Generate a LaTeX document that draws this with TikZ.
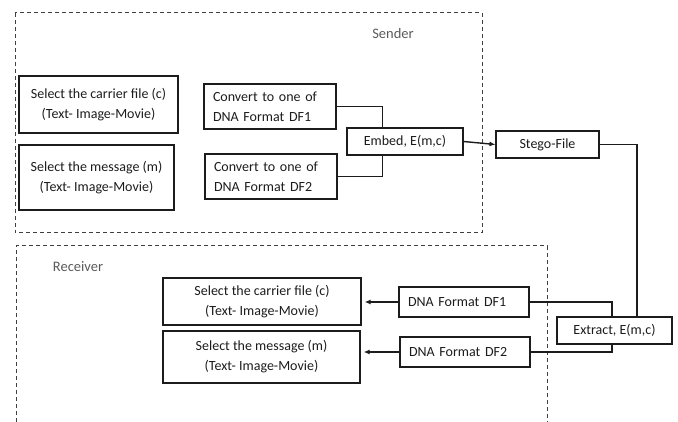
\documentclass[tikz,border=0pt]{standalone}
\usepackage{fontspec}
\setmainfont{Carlito}
\usetikzlibrary{arrows.meta}
\definecolor{ink}{HTML}{1C1C1C}
\definecolor{dashgray}{HTML}{3F3F3F}
\definecolor{labelgray}{HTML}{5A5A5A}
\begin{document}
\begin{tikzpicture}[x=1pt,y=-1pt,
  every node/.style={font=\fontsize{14}{20}\selectfont, text=ink},
  box/.style={draw=ink, line width=1.1pt, rectangle, inner sep=0pt, align=center},
  thickbox/.style={box, line width=1.6pt},
  leftbox/.style={box, align=left, inner xsep=9pt, text width=#1},
  wire/.style={draw=ink, line width=1.4pt},
  arrowwire/.style={wire, -{Latex[length=6pt,width=5pt]}},
  zone/.style={draw=dashgray, line width=1pt, dash pattern=on 4pt off 3pt},
  zonelabel/.style={text=labelgray, font=\fontsize{14.5}{17}\selectfont}
]
\useasboundingbox (0,0) rectangle (678,422);

% Sender and receiver areas
\draw[zone] (15,13) rectangle (482,233);
\draw[zone] (16,422) -- (16,246) -- (547,246) -- (547,422);
\node[zonelabel] (sender) at (393,34) {Sender};
\node[zonelabel] (receiver) at (78,267) {Receiver};

% Sender side
\node[thickbox, minimum width=159pt, minimum height=57pt] (carrier) at (98.5,104.5)
  {Select the carrier file (c)\\(Text- Image-Movie)};
\node[thickbox, minimum width=155pt, minimum height=65pt] (message) at (96.5,177.5)
  {Select the message (m)\\(Text- Image-Movie)};
\node[leftbox=114pt, minimum height=45pt] (conv1) at (270,106.5)
  {Convert to one of\\DNA Format DF1};
\node[leftbox=114pt, minimum height=45pt] (conv2) at (271,176.5)
  {Convert to one of\\DNA Format DF2};
\node[box, minimum width=116pt, minimum height=27pt] (embed) at (405,141.5) {Embed, E(m,c)};
\node[box, minimum width=103pt, minimum height=27pt] (stego) at (547.5,144.5) {Stego-File};

% Receiver side
\node[box, line width=1.4pt, minimum width=198pt, minimum height=47pt] (rcarrier) at (262,301.5)
  {Select the carrier file (c)\\(Text- Image-Movie)};
\node[box, line width=1.4pt, minimum width=197pt, minimum height=52pt] (rmessage) at (261.5,357)
  {Select the message (m)\\(Text- Image-Movie)};
\node[leftbox=112pt, minimum height=30pt] (df1) at (464,302) {DNA Format DF1};
\node[leftbox=112pt, minimum height=30pt] (df2) at (465,352) {DNA Format DF2};
\node[box, minimum width=115pt, minimum height=27pt] (extract) at (614.5,330.5) {Extract, E(m,c)};

% Connectors
\draw[wire] (conv1.east) -| ([xshift=36pt]embed.north west);
\draw[wire] ([xshift=36pt]embed.south west) |- (conv2.east);
\draw[arrowwire] (embed.east) -- (stego.west);
\draw[wire] (stego.east) -| ([xshift=22.5pt]extract.north);
\draw[wire] (df1.east) -| ([xshift=-2.5pt]extract.north);
\draw[wire] ([xshift=-2.5pt]extract.south) |- (df2.east);
\draw[arrowwire, shorten >=3pt] (df1.west) -- (df1.west -| rcarrier.east);
\draw[arrowwire, shorten >=3pt] (df2.west) -- (df2.west -| rmessage.east);
\end{tikzpicture}
\end{document}
